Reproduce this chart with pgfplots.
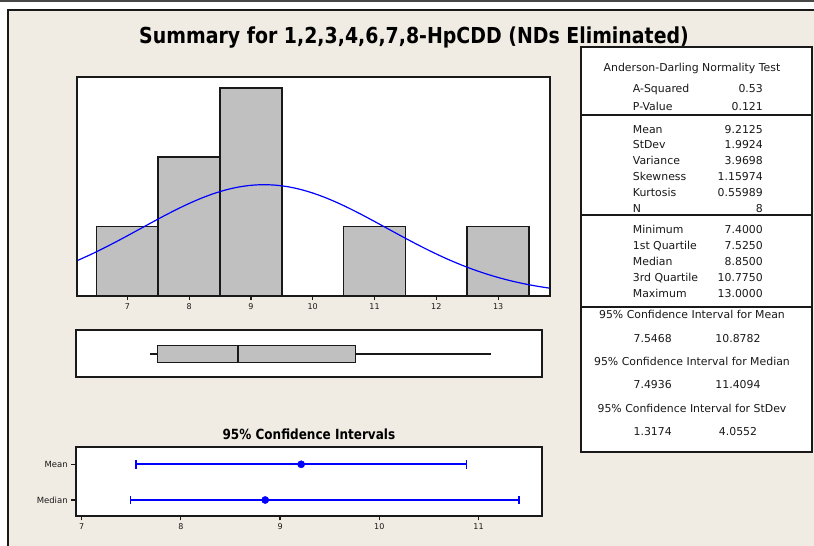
\documentclass[border=0pt]{standalone}
\usepackage{fontspec}
\setmainfont{DejaVu Sans}
\newfontfamily\titlefont[FakeStretch=0.86]{DejaVu Sans}
\usepackage{pgfplots}
\pgfplotsset{compat=1.18}
\usepgfplotslibrary{statistics}
\definecolor{bg}{RGB}{240,236,227}
\definecolor{barfill}{RGB}{192,192,192}
\definecolor{frame}{RGB}{25,25,25}
\newcommand{\tabfont}{\fontsize{10.9}{12}\selectfont}
\begin{document}
\begin{tikzpicture}
\path[use as bounding box] (0pt,0pt) rectangle (814pt,546pt);
\fill[white] (0pt,0pt) rectangle (814pt,546pt);
\fill[bg] (7.8pt,0pt) rectangle (814pt,536pt);
\draw[frame!80, line width=1.7pt] (0pt,545.15pt) -- (814pt,545.15pt);
\draw[frame, line width=2pt] (7.8pt,0pt) -- (7.8pt,536pt) -- (814pt,536pt);
% title
\node[anchor=base, font=\titlefont\bfseries\fontsize{22}{24}\selectfont] at (414pt,502pt) {Summary for 1,2,3,4,6,7,8-HpCDD (NDs Eliminated)};
\pgfplotsset{
  panel/.style={scale only axis, anchor=south west,
    axis line style={frame, line width=2pt},
    axis background/.style={fill=white},
    /pgf/number format/assume math mode=true,
    tick style={frame, line width=1.2pt},
    tick align=outside,
    major tick length=4.5pt,
    tick label style={font=\fontsize{8}{9}\selectfont, text=frame},
  }
}
% histogram
\begin{axis}[panel, at={(76.7pt,250.3pt)}, width=473.3pt, height=219pt,
  xmin=6.18, xmax=13.84, ymin=0, ymax=3.16,
  xtick={7,8,9,10,11,12,13}, ytick=\empty, xtick pos=bottom]
\addplot[ybar, bar width=1, bar shift=0pt, fill=barfill, draw=frame, line width=1.7pt]
  coordinates {(7,1) (8,2) (9,3) (11,1) (13,1)};
\addplot[blue, line width=1.2pt, mark=none, smooth] coordinates {
(6.18,0.5030) (6.2,0.5107) (6.4,0.5914) (6.6,0.6781) (6.8,0.7696) (7.0,0.8646)
(7.2,0.9617) (7.4,1.0590) (7.6,1.1544) (7.8,1.2458) (8.0,1.3310) (8.2,1.4078)
(8.4,1.4740) (8.6,1.5279) (8.8,1.5678) (9.0,1.5927) (9.2,1.6018) (9.4,1.5947)
(9.6,1.5718) (9.8,1.5337) (10.0,1.4814) (10.2,1.4166) (10.4,1.3411) (10.6,1.2569)
(10.8,1.1661) (11.0,1.0711) (11.2,0.9739) (11.4,0.8767) (11.6,0.7813) (11.8,0.6893)
(12.0,0.6020) (12.2,0.5205) (12.4,0.4455) (12.6,0.3775) (12.8,0.3167) (13.0,0.2630)
(13.2,0.2162) (13.4,0.1760) (13.6,0.1418) (13.8,0.1131) (13.84,0.1079)};
\draw[frame, line width=2pt] (rel axis cs:0,0) rectangle (rel axis cs:1,1);
\end{axis}
% boxplot
\begin{axis}[panel, at={(75.7pt,168.7pt)}, width=466.3pt, height=47.3pt,
  xmin=6.18, xmax=13.84, ymin=0, ymax=1, xtick=\empty, ytick=\empty]
\addplot[draw=frame, line width=2pt,
  boxplot/every box/.style={fill=barfill, draw=frame, line width=1.7pt},
  boxplot/every median/.style={draw=frame, line width=1.7pt},
  boxplot/every whisker/.style={draw=frame, line width=2pt},
  boxplot prepared={lower whisker=7.4, lower quartile=7.525, median=8.85,
    upper quartile=10.775, upper whisker=13, draw direction=x,
    draw position=0.49, box extend=0.36, whisker extend=0}]
  coordinates {};
\draw[frame, line width=2pt] (rel axis cs:0,0) rectangle (rel axis cs:1,1);
\end{axis}
% CI title
\node[anchor=base, font=\titlefont\bfseries\fontsize{14}{16}\selectfont] at (308.9pt,106.5pt) {95\% Confidence Intervals};
% CI panel
\begin{axis}[panel, at={(75.7pt,30pt)}, width=466.3pt, height=69.3pt,
  xmin=6.94, xmax=11.64, ymin=0, ymax=1,
  xtick={7,8,9,10,11}, ytick={0.231,0.746}, yticklabels={Median,Mean},
  xtick pos=bottom, ytick pos=left,
  yticklabel style={font=\fontsize{8.5}{9}\selectfont}]
% mean interval
\addplot[blue, line width=1.7pt, mark=|, mark size=4.2pt,
  mark options={line width=1.7pt}] coordinates {(7.5468,0.746) (10.8782,0.746)};
% median interval
\addplot[blue, line width=1.7pt, mark=|, mark size=4.2pt,
  mark options={line width=1.7pt}] coordinates {(7.4936,0.231) (11.4094,0.231)};
% point estimates
\addplot[blue, only marks, mark=*, mark size=3.6pt] coordinates {(9.2125,0.746) (8.85,0.231)};
\draw[frame, line width=2pt] (rel axis cs:0,0) rectangle (rel axis cs:1,1);
\end{axis}
% statistics table
\draw[fill=white, draw=frame, line width=1.8pt] (581pt,94pt) rectangle (812pt,499pt);
\draw[frame, line width=1.8pt] (581pt,431pt) -- (812pt,431pt);
\draw[frame, line width=1.8pt] (581pt,331pt) -- (812pt,331pt);
\draw[frame, line width=1.8pt] (581pt,239.3pt) -- (812pt,239.3pt);
\begin{scope}[every node/.style={font=\tabfont, text=frame, inner sep=0pt}]
\node[anchor=base] at (692pt,474.3pt) {Anderson-Darling Normality Test};
\node[anchor=base west] at (632.7pt,453pt) {A-Squared};
\node[anchor=base east] at (763pt,453pt) {0.53};
\node[anchor=base west] at (632.7pt,435.3pt) {P-Value};
\node[anchor=base east] at (763pt,435.3pt) {0.121};
\node[anchor=base west] at (632.7pt,412.7pt) {Mean};
\node[anchor=base east] at (763pt,412.7pt) {9.2125};
\node[anchor=base west] at (632.7pt,397pt) {StDev};
\node[anchor=base east] at (763pt,397pt) {1.9924};
\node[anchor=base west] at (632.7pt,381.3pt) {Variance};
\node[anchor=base east] at (763pt,381.3pt) {3.9698};
\node[anchor=base west] at (632.7pt,365.3pt) {Skewness};
\node[anchor=base east] at (763pt,365.3pt) {1.15974};
\node[anchor=base west] at (632.7pt,349.3pt) {Kurtosis};
\node[anchor=base east] at (763pt,349.3pt) {0.55989};
\node[anchor=base west] at (632.7pt,333.7pt) {N};
\node[anchor=base east] at (763pt,333.7pt) {8};
\node[anchor=base west] at (632.7pt,312pt) {Minimum};
\node[anchor=base east] at (763pt,312pt) {7.4000};
\node[anchor=base west] at (632.7pt,296.3pt) {1st Quartile};
\node[anchor=base east] at (763pt,296.3pt) {7.5250};
\node[anchor=base west] at (632.7pt,280.3pt) {Median};
\node[anchor=base east] at (763pt,280.3pt) {8.8500};
\node[anchor=base west] at (632.7pt,264.7pt) {3rd Quartile};
\node[anchor=base east] at (763pt,264.7pt) {10.7750};
\node[anchor=base west] at (632.7pt,248.7pt) {Maximum};
\node[anchor=base east] at (763pt,248.7pt) {13.0000};
\node[anchor=base] at (692pt,227.7pt) {95\% Confidence Interval for Mean};
\node[anchor=base] at (652.7pt,203.7pt) {7.5468};
\node[anchor=base] at (738pt,203.7pt) {10.8782};
\node[anchor=base] at (692pt,180.3pt) {95\% Confidence Interval for Median};
\node[anchor=base] at (652.7pt,157pt) {7.4936};
\node[anchor=base] at (738pt,157pt) {11.4094};
\node[anchor=base] at (692pt,133.7pt) {95\% Confidence Interval for StDev};
\node[anchor=base] at (652.7pt,110pt) {1.3174};
\node[anchor=base] at (738pt,110pt) {4.0552};
\end{scope}
\end{tikzpicture}
\end{document}
